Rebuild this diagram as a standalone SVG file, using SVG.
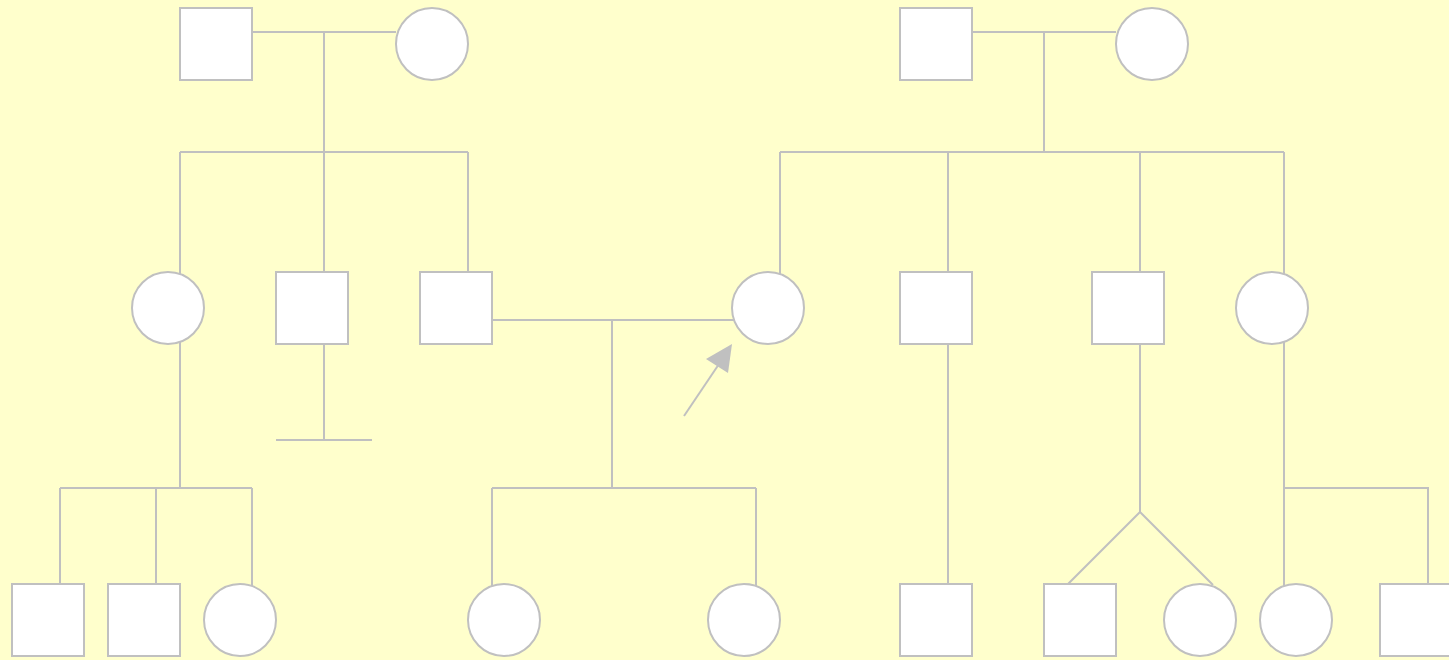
<svg xmlns="http://www.w3.org/2000/svg" width="1449" height="660" viewBox="0 0 1449 660">
<style>
.n{fill:#ffffff;stroke:#c0c0c0;stroke-width:2}
.c{fill:none;stroke:#c0c0c0;stroke-width:2}
</style>
<rect width="1449" height="660" fill="#ffffcc"/>
<g id="connectors">
<path class="c" d="M252,32H396M324,32V152M180,152H468M180,152V274M324,152V272M468,152V272"/>
<path class="c" d="M972,32H1116M1044,32V152M780,152H1284M780,152V275M948,152V272M1140,152V272M1284,152V275"/>
<path class="c" d="M492,320H734M612,320V488M492,488H756M492,488V586M756,488V586"/>
<path class="c" d="M180,342V488M60,488H252M60,488V584M156,488V584M252,488V586"/>
<path class="c" d="M324,344V440M276,440H372"/>
<path class="c" d="M948,344V584"/>
<path class="c" d="M1140,344V512M1140,512L1068,584M1140,512L1213,585"/>
<path class="c" d="M1284,342V586M1284,488H1428V584"/>
<line x1="684" y1="416" x2="719" y2="364" stroke="#c0c0c0" stroke-width="2"/>
<polygon points="732,344 706,359 728,373" fill="#c0c0c0"/>
</g>
<g id="n1"><rect class="n" x="180" y="8" width="72" height="72"/></g>
<g id="n2"><circle class="n" cx="432" cy="44" r="36"/></g>
<g id="n3"><rect class="n" x="900" y="8" width="72" height="72"/></g>
<g id="n4"><circle class="n" cx="1152" cy="44" r="36"/></g>
<g id="n5"><circle class="n" cx="168" cy="308" r="36"/></g>
<g id="n6"><rect class="n" x="276" y="272" width="72" height="72"/></g>
<g id="n7"><rect class="n" x="420" y="272" width="72" height="72"/></g>
<g id="n8"><circle class="n" cx="768" cy="308" r="36"/></g>
<g id="n9"><rect class="n" x="900" y="272" width="72" height="72"/></g>
<g id="n10"><rect class="n" x="1092" y="272" width="72" height="72"/></g>
<g id="n11"><circle class="n" cx="1272" cy="308" r="36"/></g>
<g id="n12"><rect class="n" x="12" y="584" width="72" height="72"/></g>
<g id="n13"><rect class="n" x="108" y="584" width="72" height="72"/></g>
<g id="n14"><circle class="n" cx="240" cy="620" r="36"/></g>
<g id="n15"><circle class="n" cx="504" cy="620" r="36"/></g>
<g id="n16"><circle class="n" cx="744" cy="620" r="36"/></g>
<g id="n17"><rect class="n" x="900" y="584" width="72" height="72"/></g>
<g id="n18"><rect class="n" x="1044" y="584" width="72" height="72"/></g>
<g id="n19"><circle class="n" cx="1200" cy="620" r="36"/></g>
<g id="n20"><circle class="n" cx="1296" cy="620" r="36"/></g>
<g id="n21"><rect class="n" x="1380" y="584" width="72" height="72"/></g>
</svg>
